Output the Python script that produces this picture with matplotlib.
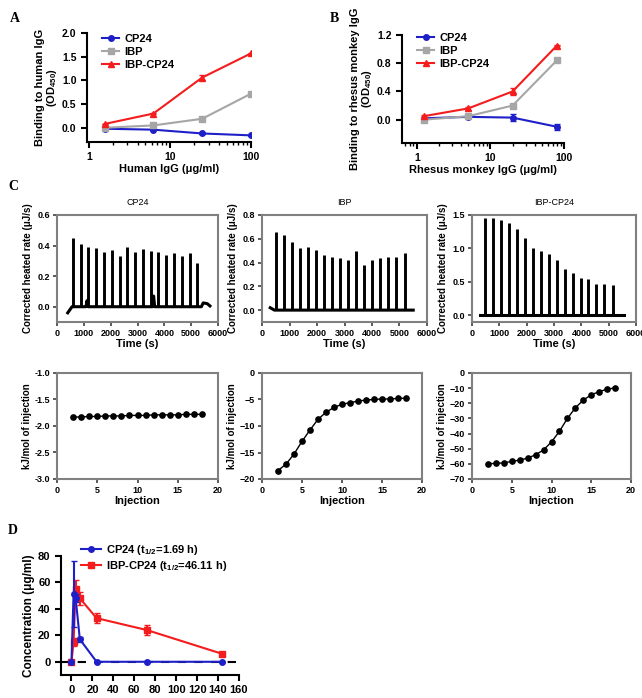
import numpy as np
import matplotlib
matplotlib.use('Agg')
import matplotlib.pyplot as plt

plt.rcParams['font.family'] = ['Liberation Sans', 'DejaVu Sans']
plt.rcParams['font.weight'] = 'bold'
plt.rcParams['axes.labelweight'] = 'bold'
plt.rcParams['mathtext.default'] = 'regular'

BLUE = '#1f1fc8'
GRAY = '#a6a6a6'
RED = '#f41c1c'
FRAME = '#808080'

# Panel A: binding to human IgG
human_igg = [1.5625, 6.25, 25, 100]
a_cp24 = [-0.02, -0.04, -0.12, -0.16]
a_cp24_err = [0.01, 0.01, 0.02, 0.01]
a_ibp = [0.0, 0.05, 0.19, 0.72]
a_ibp_err = [0.01, 0.01, 0.04, 0.02]
a_ibpcp24 = [0.08, 0.30, 1.06, 1.57]
a_ibpcp24_err = [0.01, 0.01, 0.05, 0.01]

# Panel B: binding to rhesus monkey IgG
rhesus_igg = [1.25, 5, 20, 80]
b_cp24 = [0.02, 0.04, 0.03, -0.10]
b_cp24_err = [0.01, 0.02, 0.05, 0.04]
b_ibp = [0.0, 0.05, 0.20, 0.84]
b_ibp_err = [0.01, 0.01, 0.01, 0.01]
b_ibpcp24 = [0.05, 0.16, 0.40, 1.05]
b_ibpcp24_err = [0.01, 0.02, 0.05, 0.01]

# Panel C: ITC raw peaks (injection time, peak height)
c_titles = ['CP24', 'IBP', 'IBP-CP24']
cp24_peak_t = [590, 880, 1170, 1460, 1750, 2040, 2330, 2620, 2910, 3200,
               3490, 3780, 4070, 4360, 4650, 4940, 5230]
cp24_peak_h = [0.45, 0.41, 0.39, 0.385, 0.36, 0.37, 0.335, 0.39, 0.36, 0.375,
               0.365, 0.36, 0.34, 0.35, 0.33, 0.35, 0.285]
cp24_base_t = [400, 560, 1080, 1120, 1160, 3560, 3600, 3640, 5380, 5450, 5600, 5700]
cp24_base_v = [-0.04, 0.0, 0.0, 0.04, 0.0, 0.0, 0.07, 0.0, 0.0, 0.025, 0.02, 0.005]

ibp_peak_t = [510, 800, 1090, 1380, 1670, 1960, 2250, 2540, 2830, 3120,
              3410, 3700, 3990, 4280, 4570, 4860, 5190]
ibp_peak_h = [0.66, 0.63, 0.57, 0.525, 0.53, 0.505, 0.465, 0.45, 0.435, 0.425,
              0.50, 0.38, 0.42, 0.435, 0.45, 0.45, 0.48]
ibp_base_t = [300, 450, 5500]
ibp_base_v = [0.02, 0.0, 0.0]

ibpcp24_peak_t = [490, 780, 1070, 1360, 1650, 1940, 2230, 2520, 2810, 3100,
                  3390, 3680, 3970, 4260, 4550, 4840, 5150]
ibpcp24_peak_h = [1.46, 1.45, 1.42, 1.38, 1.29, 1.15, 1.0, 0.96, 0.91, 0.82,
                  0.70, 0.64, 0.56, 0.54, 0.47, 0.47, 0.45]
ibpcp24_base_t = [300, 5550]
ibpcp24_base_v = [0.0, 0.0]

# Panel C: integrated heats
injection = list(range(2, 19))
heat_cp24 = [-1.83, -1.83, -1.82, -1.82, -1.81, -1.81, -1.81, -1.80, -1.80,
             -1.80, -1.79, -1.79, -1.79, -1.79, -1.78, -1.78, -1.78]
heat_ibp = [-18.4, -17.2, -15.3, -12.9, -10.75, -8.75, -7.4, -6.5, -5.9,
            -5.6, -5.3, -5.1, -5.0, -4.9, -4.9, -4.8, -4.75]
heat_ibpcp24 = [-59.9, -59.7, -59.3, -58.4, -57.5, -56.2, -54.0, -50.8, -45.5,
                -38.5, -30.0, -23.0, -17.9, -14.4, -12.3, -10.7, -9.8]

# Panel D: pharmacokinetics
time_h = [0, 2, 4, 8, 24, 72, 144]
d_cp24 = [0, 51, 48, 17, 0, 0, 0]
d_cp24_err = [0, 25, 3, 2, 0, 0, 0]
d_ibpcp24 = [0, 15, 55, 48, 33, 24, 6]
d_ibpcp24_err = [0, 3, 7, 5, 4, 4, 1]

fig = plt.figure(figsize=(6.42, 6.98), dpi=100)


def add_ax(left, top, right, bottom):
    return fig.add_axes([left / 642, 1 - bottom / 698,
                         (right - left) / 642, (bottom - top) / 698])


def open_style(ax, size):
    for s in ['top', 'right']:
        ax.spines[s].set_visible(False)
    for s in ['left', 'bottom']:
        ax.spines[s].set_linewidth(1.5)
    ax.tick_params(width=1.5, length=4, labelsize=size)
    ax.tick_params(which='minor', width=1, length=2.5)


def box_style(ax, size):
    for s in ax.spines.values():
        s.set_color(FRAME)
        s.set_linewidth(1.5)
    ax.tick_params(width=1.2, length=3, labelsize=size, color='#404040', pad=2)


def series(ax, x, y, err, color, marker, label, z=2):
    ax.errorbar(x, y, yerr=err, fmt='none', ecolor=color, elinewidth=1.5,
                capsize=2, zorder=z)
    ax.plot(x, y, color=color, marker=marker, ms=4, lw=1.5, label=label,
            zorder=z)


# A
axA = add_ax(87, 33, 251, 142)
series(axA, human_igg, a_cp24, a_cp24_err, BLUE, 'o', 'CP24')
series(axA, human_igg, a_ibp, a_ibp_err, GRAY, 's', 'IBP')
series(axA, human_igg, a_ibpcp24, a_ibpcp24_err, RED, '^', 'IBP-CP24')
axA.set_xscale('log')
axA.set_xlim(0.95, 100)
axA.set_ylim(-0.3, 2.0)
axA.set_yticks([0.0, 0.5, 1.0, 1.5, 2.0])
axA.set_xticks([1, 10, 100])
axA.set_xticklabels(['1', '10', '100'])
open_style(axA, 7.5)
axA.set_xlabel('Human IgG (μg/ml)', fontsize=8, labelpad=1)
axA.set_ylabel('Binding to human IgG\n(OD$_{450}$)', fontsize=8, labelpad=2,
               linespacing=1.0)
axA.legend(loc='upper left', bbox_to_anchor=(0.06, 1.04), frameon=False,
           fontsize=8, handlelength=1.5, labelspacing=0.25, borderpad=0,
           handletextpad=0.5)

# B
axB = add_ax(402, 35, 564, 143)
series(axB, rhesus_igg, b_cp24, b_cp24_err, BLUE, 'o', 'CP24')
series(axB, rhesus_igg, b_ibp, b_ibp_err, GRAY, 's', 'IBP')
series(axB, rhesus_igg, b_ibpcp24, b_ibpcp24_err, RED, '^', 'IBP-CP24')
axB.set_xscale('log')
axB.set_xlim(0.63, 100)
axB.set_ylim(-0.33, 1.2)
axB.set_yticks([0.0, 0.4, 0.8, 1.2])
axB.set_xticks([1, 10, 100])
axB.set_xticklabels(['1', '10', '100'])
open_style(axB, 7.5)
axB.set_xlabel('Rhesus monkey IgG (μg/ml)', fontsize=8, labelpad=1)
axB.set_ylabel('Binding to rhesus monkey IgG\n(OD$_{450}$)', fontsize=8,
               labelpad=2, linespacing=1.0)
axB.legend(loc='upper left', bbox_to_anchor=(0.06, 1.07), frameon=False,
           fontsize=8, handlelength=1.5, labelspacing=0.25, borderpad=0,
           handletextpad=0.5)

# C top row: raw thermograms
raw = [(cp24_peak_t, cp24_peak_h, cp24_base_t, cp24_base_v, 0.6, [0.0, 0.2, 0.4, 0.6]),
       (ibp_peak_t, ibp_peak_h, ibp_base_t, ibp_base_v, 0.8, [0.0, 0.2, 0.4, 0.6, 0.8]),
       (ibpcp24_peak_t, ibpcp24_peak_h, ibpcp24_base_t, ibpcp24_base_v, 1.5, [0.0, 0.5, 1.0, 1.5])]
lefts = [57, 262, 472]
rights = [218, 427, 636]
for i, (pt, ph, bt, bv, ymax, yt) in enumerate(raw):
    ax = add_ax(lefts[i], 215, rights[i], 322)
    ax.vlines(pt, 0, ph, color='black', lw=2.1)
    ax.plot(bt, bv, color='black', lw=2.2)
    ax.set_xlim(0, 6000)
    ax.set_ylim(-0.1, ymax)
    ax.set_yticks(yt)
    ax.set_xticks(range(0, 6001, 1000))
    box_style(ax, 6.5)
    ax.set_title(c_titles[i], fontsize=6.5, pad=7)
    ax.set_xlabel('Time (s)', fontsize=8, labelpad=1)
    ax.set_ylabel('Corrected heated rate (μJ/s)', fontsize=7, labelpad=3)

# C bottom row: integrated heats
heats = [(heat_cp24, (-3.0, -1.0), [-3.0, -2.5, -2.0, -1.5, -1.0]),
         (heat_ibp, (-20, 0), [-20, -15, -10, -5, 0]),
         (heat_ibpcp24, (-70, 0), list(range(-70, 1, 10)))]
rights2 = [218, 422, 631]
for i, (hv, yl, yt) in enumerate(heats):
    ax = add_ax(lefts[i], 373, rights2[i], 479)
    ax.plot(injection, hv, color='black', marker='o', ms=3.8, lw=1)
    ax.set_xlim(0, 20)
    ax.set_ylim(*yl)
    ax.set_yticks(yt)
    if i == 0:
        ax.set_yticklabels(['%.1f' % v for v in yt])
    ax.set_xticks([0, 5, 10, 15, 20])
    box_style(ax, 6.5)
    ax.set_xlabel('Injection', fontsize=8, labelpad=1)
    ax.set_ylabel('kJ/mol of injection', fontsize=7, labelpad=2)

# D
axD = add_ax(61, 556, 239, 675)
axD.axhline(0, color='black', lw=1.5, ls=(0, (4, 4)), zorder=1)
series(axD, time_h, d_cp24, d_cp24_err, BLUE, 'o', 'CP24 (t$_{1/2}$=1.69 h)', z=3)
series(axD, time_h, d_ibpcp24, d_ibpcp24_err, RED, 's',
       'IBP-CP24 (t$_{1/2}$=46.11 h)', z=2)
axD.set_xlim(-10, 160)
axD.set_ylim(-10, 80)
axD.set_xticks(range(0, 161, 20))
axD.set_yticks(range(0, 81, 20))
open_style(axD, 8)
axD.set_xlabel('Time (h)', fontsize=8.5, labelpad=3)
axD.set_ylabel('Concentration (μg/ml)', fontsize=8.5, labelpad=2)
axD.legend(loc='upper left', bbox_to_anchor=(0.08, 1.16), frameon=False,
           fontsize=8, handlelength=1.8, labelspacing=0.25, borderpad=0,
           handletextpad=0.5)

# panel letters
for letter, x, y in [('A', 10, 18), ('B', 330, 18), ('C', 8, 187), ('D', 8, 530)]:
    fig.text(x / 642, 1 - y / 698, letter, fontsize=10, fontweight='bold',
             family='Liberation Serif', va='center', ha='left')

fig.savefig('out.png', dpi=100)
